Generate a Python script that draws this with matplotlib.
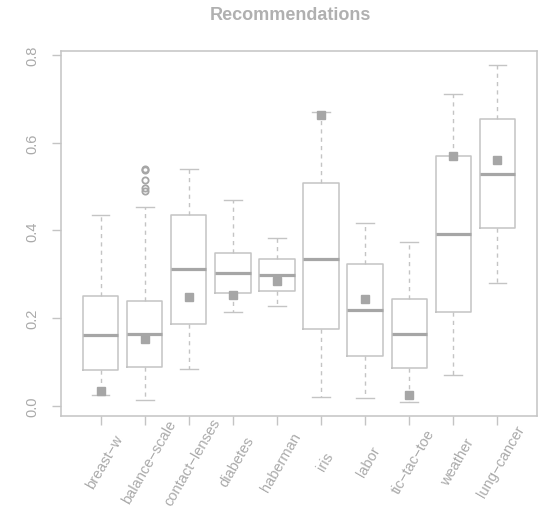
import matplotlib
matplotlib.use('Agg')
import matplotlib.pyplot as plt
import matplotlib.transforms as mtransforms

plt.rcParams['font.family'] = ['Liberation Sans', 'DejaVu Sans']

# datasets and their box statistics
names = ['breast-w', 'balance-scale', 'contact-lenses', 'diabetes', 'haberman',
         'iris', 'labor', 'tic-tac-toe', 'weather', 'lung-cancer']
whis_lo = [0.026, 0.014, 0.083, 0.213, 0.228, 0.020, 0.017, 0.008, 0.071, 0.280]
q1      = [0.082, 0.088, 0.186, 0.257, 0.263, 0.176, 0.114, 0.086, 0.213, 0.405]
median  = [0.162, 0.165, 0.311, 0.302, 0.299, 0.335, 0.218, 0.164, 0.392, 0.529]
q3      = [0.250, 0.239, 0.435, 0.348, 0.336, 0.508, 0.323, 0.243, 0.569, 0.653]
whis_hi = [0.436, 0.454, 0.539, 0.469, 0.383, 0.670, 0.418, 0.374, 0.711, 0.777]
means   = [0.033, 0.152, 0.248, 0.253, 0.285, 0.664, 0.244, 0.024, 0.569, 0.561]
outliers = [[], [0.540, 0.538, 0.516, 0.497, 0.489], [], [], [], [], [], [], [], []]

line_c = '#c4c4c4'
dark_c = '#a6a6a6'
text_c = '#aaaaaa'

stats = []
for i in range(len(names)):
    stats.append(dict(label=names[i].replace('-', '\u2212'),
                      whislo=whis_lo[i], q1=q1[i], med=median[i], q3=q3[i],
                      whishi=whis_hi[i], mean=means[i], fliers=outliers[i]))

fig = plt.figure(figsize=(5.38, 5.10), dpi=100)
ax = fig.add_axes([61/538, 1 - 417/510, 476/538, 365/510])

ax.bxp(stats, positions=range(1, 11), widths=0.8, showmeans=True,
       capwidths=0.4, showcaps=True,
       boxprops=dict(color=line_c, linewidth=1.1),
       whiskerprops=dict(color=line_c, linewidth=1.0, linestyle=(0, (3, 3))),
       capprops=dict(color=line_c, linewidth=1.0),
       medianprops=dict(color=dark_c, linewidth=2.3, solid_capstyle='butt'),
       meanprops=dict(marker='s', markersize=5.2, markerfacecolor=dark_c,
                      markeredgecolor=dark_c),
       flierprops=dict(marker='o', markersize=4.5, markerfacecolor='none',
                       markeredgecolor=dark_c, markeredgewidth=1.3))

ax.set_xlim(0.1, 10.9)
ax.set_ylim(-0.023, 0.809)
ax.set_yticks([0.0, 0.2, 0.4, 0.6, 0.8])
ax.set_yticklabels(['0.0', '0.2', '0.4', '0.6', '0.8'], rotation=90,
                   va='center', fontsize=10.5, color=text_c)
ax.tick_params(axis='y', length=6.5, width=1.0, color=line_c, pad=9)
ax.tick_params(axis='x', length=6.5, width=1.0, color=line_c, pad=26)

offset = mtransforms.ScaledTranslation(4/100, 0, fig.dpi_scale_trans)
for lbl in ax.get_xticklabels():
    lbl.set_rotation(60)
    lbl.set_rotation_mode('anchor')
    lbl.set_ha('center')
    lbl.set_va('center')
    lbl.set_fontsize(10.5)
    lbl.set_color(text_c)
    lbl.set_transform(lbl.get_transform() + offset)

for s in ax.spines.values():
    s.set_color(line_c)
    s.set_linewidth(1.1)

fig.text(290/538, 1 - 15/510, 'Recommendations', ha='center', va='center',
         fontsize=13, fontweight='bold', color='#b0b0b0')

fig.savefig('out.png', dpi=100)
